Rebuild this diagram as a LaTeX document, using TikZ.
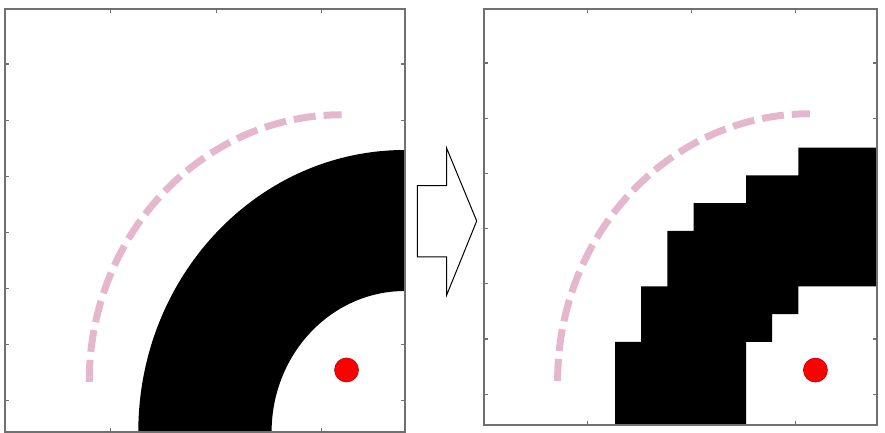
\documentclass[tikz,border=0pt]{standalone}
\usepackage{tikz}
\definecolor{mapgray}{RGB}{112,112,112}
\definecolor{pathpink}{RGB}{229,183,204}

\begin{document}
\begin{tikzpicture}[
  x=0.5pt, y=-0.5pt,
  axisbox/.style={draw=mapgray, line width=0.75pt},
  axtick/.style={draw=mapgray, line width=0.6pt},
  guide/.style={pathpink, line width=3.5pt, dash pattern=on 11pt off 4pt},
  target/.style={circle, fill=red, draw=red!70!black, line width=0.3pt, inner sep=0pt, minimum size=12pt},
  blockarrow/.style={draw=black, fill=white, line width=0.5pt, line join=miter}
]
\useasboundingbox (0,0) rectangle (885,433);

% continuous map
\begin{scope}[shift={(5,432)}, x=13.33pt, y=14.1pt]
  \foreach \t in {1,2,3} {
    \draw[axtick] (3.96*\t,0) -- ++(0,0.15);
    \draw[axtick] (3.96*\t,15) -- ++(0,-0.15);
  }
  \foreach \t in {0,...,6} {
    \draw[axtick] (0,1.11+1.99*\t) -- ++(0.15,0);
    \draw[axtick] (15,1.11+1.99*\t) -- ++(-0.15,0);
  }
  \fill[black] (15,10) arc[start angle=90, end angle=180, x radius=10, y radius=10]
    -- (10,0) arc[start angle=180, end angle=90, x radius=5, y radius=5] -- cycle;
  \draw[guide] (3.16,1.78) arc[start angle=180, end angle=90, x radius=9.47, y radius=9.47];
  \node[target] (goalA) at (12.81,2.2) {};
  \draw[axisbox] (0,0) rectangle (15,15);
\end{scope}

\draw[blockarrow] (417.3,185.7) -- (446.7,185.7) -- (446.7,148.3) -- (476.7,221)
  -- (446.7,295) -- (446.7,257) -- (417.3,257) -- cycle;

% grid map
\begin{scope}[shift={(484,425)}, x=13.1pt, y=13.87pt]
  \foreach \t in {1,2,3} {
    \draw[axtick] (3.96*\t,0) -- ++(0,0.15);
    \draw[axtick] (3.96*\t,15) -- ++(0,-0.15);
  }
  \foreach \t in {0,...,6} {
    \draw[axtick] (0,1.11+1.99*\t) -- ++(0.15,0);
    \draw[axtick] (15,1.11+1.99*\t) -- ++(-0.15,0);
  }
  \fill[black] (5,0) -- (5,3) -- (6,3) -- (6,5) -- (7,5) -- (7,7) -- (8,7) -- (8,8)
    -- (10,8) -- (10,9) -- (12,9) -- (12,10) -- (15,10) -- (15,5) -- (12,5) -- (12,4)
    -- (11,4) -- (11,3) -- (10,3) -- (10,0) -- cycle;
  \draw[guide] (2.81,1.59) arc[start angle=180, end angle=90, x radius=9.63, y radius=9.63];
  \node[target] (goalB) at (12.65,1.98) {};
  \draw[axisbox] (0,0) rectangle (15,15);
\end{scope}
\end{tikzpicture}
\end{document}
